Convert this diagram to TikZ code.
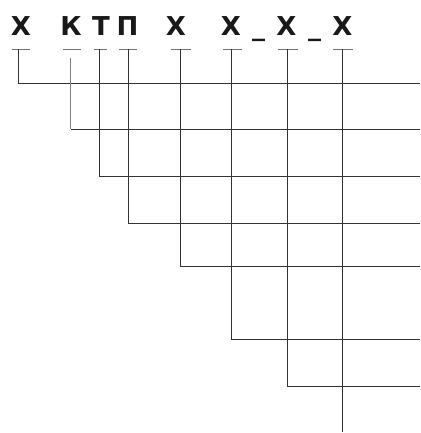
\documentclass[tikz,border=0pt]{standalone}
\usepackage{fontspec}
\setmainfont{DejaVu Sans}
\newfontfamily\boldsans{DejaVu Sans Bold}
\newcommand\CyrX{\symbol{"0425}}
\newcommand\CyrK{\symbol{"041A}}
\newcommand\CyrT{\symbol{"0422}}
\newcommand\CyrP{\symbol{"041F}}
\begin{document}
\begin{tikzpicture}[x=1pt,y=-1pt,
  letter/.style={anchor=base,inner sep=0pt,font=\boldsans\fontsize{26}{26}\selectfont,text=black!90},
  uline/.style={draw=black!55,line width=0.9pt},
  wire/.style={draw=black!80,line width=1pt}]
\useasboundingbox (0,0) rectangle (420,433);
% letters
\node[letter] (t1) at (21,35.5) {\CyrX};
\node[letter] (t2) at (71,35.5) {\CyrK};
\node[letter] (t3) at (101,35.5) {\CyrT};
\node[letter] (t4) at (127.5,35.5) {\CyrP};
\node[letter] (t5) at (176,35.5) {\CyrX};
\node[letter] (t6) at (231,35.5) {\CyrX};
\node[letter] (s1) at (258.5,35.5) {\_};
\node[letter] (t7) at (286.5,35.5) {\CyrX};
\node[letter] (s2) at (314.5,35.5) {\_};
\node[letter] (t8) at (342.5,35.5) {\CyrX};
% underlines
\draw[uline] (12,49) -- (30,49);
\draw[uline] (63,49) -- (81,49);
\draw[uline] (93.5,49) -- (107,49);
\draw[uline] (119,49) -- (137,49);
\draw[uline] (171,49) -- (191,49);
\draw[uline] (222.5,49) -- (242,49);
\draw[uline] (278,49) -- (298,49);
\draw[uline] (333,49) -- (353,49);
% connector tops
\coordinate (a1) at (18.5,49);
\coordinate (a2) at (70.7,58);
\coordinate (a3) at (99.5,49);
\coordinate (a4) at (128.3,49);
\coordinate (a5) at (180.3,49);
\coordinate (a6) at (231.3,49);
\coordinate (a7) at (287,49);
\coordinate (a8) at (342.5,49);
% corners
\coordinate (c1) at (18.5,83.3);
\coordinate (c2) at (70.7,129.3);
\coordinate (c3) at (99.5,176.3);
\coordinate (c4) at (128.3,223.3);
\coordinate (c5) at (180.3,266.5);
\coordinate (c6) at (231.3,339.5);
\coordinate (c7) at (287,386.7);
\coordinate (c8) at (342.5,432);
% right ends
\coordinate (r1) at (420,83.3);
\coordinate (r2) at (420,129.3);
\coordinate (r3) at (420,176.3);
\coordinate (r4) at (420,223.3);
\coordinate (r5) at (420,266.5);
\coordinate (r6) at (420,339.5);
\coordinate (r7) at (420,386.7);
\draw[wire] (a1) -- (c1) -- (r1);
\draw[wire,draw=black!50] (a2) -- (c2);
\draw[wire] (c2) -- (r2);
\draw[wire] (a3) -- (c3) -- (r3);
\draw[wire] (a4) -- (c4) -- (r4);
\draw[wire] (a5) -- (c5) -- (r5);
\draw[wire] (a6) -- (c6) -- (r6);
\draw[wire] (a7) -- (c7) -- (r7);
\draw[wire] (a8) -- (c8);
\end{tikzpicture}
\end{document}
